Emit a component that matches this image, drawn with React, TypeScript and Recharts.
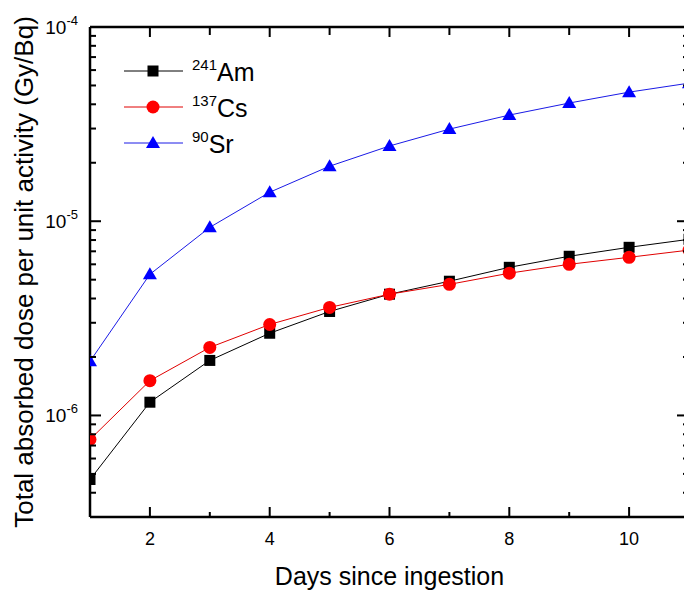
import React from 'react';
import { LineChart, Line, XAxis, YAxis, Legend } from 'recharts';

const days = [1, 2, 3, 4, 5, 6, 7, 8, 9, 10, 11];
const am241 = [4.68e-7, 1.17e-6, 1.92e-6, 2.65e-6, 3.43e-6, 4.21e-6, 4.91e-6, 5.79e-6, 6.6e-6, 7.34e-6, 8.07e-6];
const cs137 = [7.52e-7, 1.51e-6, 2.24e-6, 2.94e-6, 3.6e-6, 4.21e-6, 4.73e-6, 5.4e-6, 6.0e-6, 6.52e-6, 7.1e-6];
const sr90 = [1.9e-6, 5.33e-6, 9.3e-6, 1.41e-5, 1.92e-5, 2.44e-5, 2.98e-5, 3.52e-5, 4.06e-5, 4.62e-5, 5.14e-5];

const xMajorTicks = [2, 4, 6, 8, 10];
const xAllTicks = [2, 3, 4, 5, 6, 7, 8, 9, 10];
const yMajorTicks = [1e-6, 1e-5, 1e-4];
const yAllTicks = [
  3e-7, 4e-7, 5e-7, 6e-7, 7e-7, 8e-7, 9e-7,
  1e-6, 2e-6, 3e-6, 4e-6, 5e-6, 6e-6, 7e-6, 8e-6, 9e-6,
  1e-5, 2e-5, 3e-5, 4e-5, 5e-5, 6e-5, 7e-5, 8e-5, 9e-5,
  1e-4,
];
const yDomain = [3e-7, 1e-4];

const isotopeMass = ['241', '137', '90'];
const isotopeSymbol = ['Am', 'Cs', 'Sr'];

const data = days.map((d, i) => ({ day: d, am: am241[i], cs: cs137[i], sr: sr90[i] }));

const FONT = 'Arial, "Liberation Sans", sans-serif';

const series = [
  { key: 'am', color: '#000000', line: '#000000', shape: 'square' },
  { key: 'cs', color: '#ff0000', line: '#e00000', shape: 'circle' },
  { key: 'sr', color: '#0000ff', line: '#1a1ae6', shape: 'triangle' },
];

const Marker = ({ shape, cx, cy, color }: any) => {
  if (cx == null || cy == null) return null;
  if (shape === 'square') return <rect x={cx - 5.5} y={cy - 5.5} width={11} height={11} fill={color} />;
  if (shape === 'circle') return <circle cx={cx} cy={cy} r={6.5} fill={color} />;
  return <polygon points={`${cx},${cy - 7} ${cx - 7},${cy + 5} ${cx + 7},${cy + 5}`} fill={color} />;
};

const isMajorY = (v: number) => yMajorTicks.some((m) => Math.abs(m - v) / m < 1e-6);

// tick marks point into the plot, labels drawn by hand
const LeftTick = ({ x, y, payload }: any) => {
  const major = isMajorY(payload.value);
  const exp = Math.round(Math.log10(payload.value));
  return (
    <g>
      <rect x={x} y={y - 1} width={major ? 11 : 6} height={2} fill="#000" />
      {major && (
        <text x={x - 12} y={y + 7} textAnchor="end" fontSize={19} fontFamily={FONT} fill="#000">
          10
          <tspan dy={-9} fontSize={13}>{String(exp)}</tspan>
        </text>
      )}
    </g>
  );
};

const RightTick = ({ x, y, payload }: any) => {
  const len = isMajorY(payload.value) ? 12 : 6;
  return <rect x={x - len} y={y - 1} width={len} height={2} fill="#000" />;
};

const BottomTick = ({ x, y, payload }: any) => {
  const major = xMajorTicks.includes(payload.value);
  const len = major ? 10 : 5;
  return (
    <g>
      <rect x={x - 1} y={y - len} width={2} height={len} fill="#000" />
      {major && (
        <text x={x} y={y + 28} textAnchor="middle" fontSize={18} fontFamily={FONT} fill="#000">
          {payload.value}
        </text>
      )}
    </g>
  );
};

const TopTick = ({ x, y, payload }: any) => {
  const len = xMajorTicks.includes(payload.value) ? 10 : 8;
  return <rect x={x - 1} y={y} width={2} height={len} fill="#000" />;
};

const LegendContent = () => (
  <svg width={220} height={110} style={{ display: 'block' }}>
    {series.map((s, i) => {
      const cy = 21 + i * 36;
      return (
        <g key={s.key}>
          <line x1={14} x2={73} y1={cy} y2={cy} stroke={s.line} strokeWidth={1} />
          <Marker shape={s.shape} cx={43} cy={cy} color={s.color} />
          <text x={82} y={cy + 10} fontFamily={FONT} fill="#000" fontSize={25}>
            <tspan fontSize={15} dy={-11}>{isotopeMass[i]}</tspan>
            <tspan dy={11}>{isotopeSymbol[i]}</tspan>
          </text>
        </g>
      );
    })}
  </svg>
);

const YTitle = ({ viewBox }: any) => {
  const cy = viewBox.y + viewBox.height / 2;
  return (
    <text
      x={0}
      y={0}
      transform={`translate(33, ${cy}) rotate(-90)`}
      textAnchor="middle"
      fontSize={26}
      fontFamily={FONT}
      fill="#000"
    >
      Total absorbed dose per unit activity (Gy/Bq)
    </text>
  );
};

const XTitle = ({ viewBox }: any) => {
  const cx = viewBox.x + viewBox.width / 2;
  return (
    <text x={cx} y={viewBox.y + 68} textAnchor="middle" fontSize={25} fontFamily={FONT} fill="#000">
      Days since ingestion
    </text>
  );
};

const axisLine = { stroke: '#000', strokeWidth: 2.5 };

export default function App() {
  return (
    <div
      style={{
        position: 'fixed',
        left: 0,
        top: 0,
        width: 684,
        height: 590,
        overflow: 'hidden',
        background: '#fff',
        fontFamily: FONT,
      }}
    >
      {/* plot box: x 90..689 (cut by the window), y 27..517 */}
      <LineChart width={700} height={590} data={data} margin={{ top: 26, right: 10, bottom: 0, left: 0 }}>
        <XAxis
          xAxisId="bottom"
          type="number"
          dataKey="day"
          domain={[1, 11]}
          allowDataOverflow
          ticks={xAllTicks}
          interval={0}
          height={73}
          tickSize={0}
          tickMargin={0}
          tick={BottomTick}
          axisLine={axisLine}
          label={<XTitle />}
        />
        <XAxis
          xAxisId="top"
          orientation="top"
          type="number"
          dataKey="day"
          domain={[1, 11]}
          allowDataOverflow
          ticks={xAllTicks}
          interval={0}
          height={1}
          tickSize={0}
          tickMargin={0}
          tick={TopTick}
          axisLine={axisLine}
        />
        <YAxis
          yAxisId="left"
          scale="log"
          domain={yDomain}
          allowDataOverflow
          ticks={yAllTicks}
          interval={0}
          width={90}
          tickSize={0}
          tickMargin={0}
          tick={LeftTick}
          axisLine={axisLine}
          label={<YTitle />}
        />
        <YAxis
          yAxisId="right"
          orientation="right"
          scale="log"
          domain={yDomain}
          allowDataOverflow
          ticks={yAllTicks}
          interval={0}
          width={1}
          tickSize={0}
          tickMargin={0}
          tick={RightTick}
          axisLine={axisLine}
        />
        <Legend
          layout="vertical"
          align="center"
          verticalAlign="middle"
          wrapperStyle={{ left: 110, top: 50, width: 220, height: 110 }}
          content={LegendContent}
        />
        {series.map((s) => (
          <Line
            key={s.key}
            xAxisId="bottom"
            yAxisId="left"
            dataKey={s.key}
            type="linear"
            stroke={s.line}
            strokeWidth={1}
            isAnimationActive={false}
            dot={(p: any) => <Marker key={`${s.key}-${p.index}`} shape={s.shape} cx={p.cx} cy={p.cy} color={s.color} />}
            activeDot={false}
          />
        ))}
      </LineChart>
    </div>
  );
}
